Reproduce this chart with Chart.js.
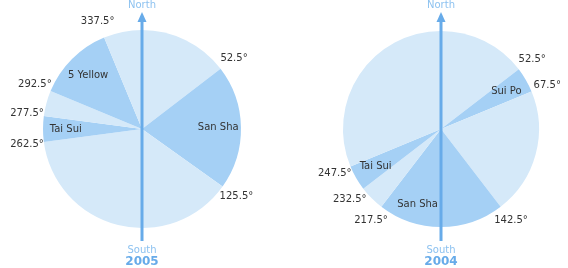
<!DOCTYPE html>
<html>
<head>
<meta charset="utf-8">
<script src="https://cdn.jsdelivr.net/npm/chart.js@4"></script>
<style>
  body { margin: 0; background: #fff; }
  .box { position: absolute; top: 0; width: 284px; height: 268px; }
</style>
</head>
<body>
<div class="box" style="left:0"><canvas id="pie2005" width="284" height="268"></canvas></div>
<div class="box" style="left:284px"><canvas id="pie2004" width="284" height="268"></canvas></div>
<script>
// sectors (compass degrees, clockwise from north)
const names2005 = ['San Sha', 'Tai Sui', '5 Yellow'];
const from2005 = [52.5, 262.5, 292.5];
const to2005 = [125.5, 277.5, 337.5];

const names2004 = ['Sui Po', 'San Sha', 'Tai Sui'];
const from2004 = [52.5, 142.5, 232.5];
const to2004 = [67.5, 217.5, 247.5];

const claro = '#d5e9f9';
const escuro = '#a5d0f5';
const azul = '#67abe9';
const fonte = 'DejaVu Sans, Verdana, sans-serif';

// monta as fatias: claro entre setores, escuro nos setores
function montarFatias(nomes, de, ate) {
    const valores = [], cores = [], rotulos = [];
    let pos = 0;
    for (let i = 0; i < nomes.length; i++) {
        if (de[i] > pos) { valores.push(de[i] - pos); cores.push(claro); rotulos.push(''); }
        valores.push(ate[i] - de[i]); cores.push(escuro); rotulos.push(nomes[i]);
        pos = ate[i];
    }
    if (pos < 360) { valores.push(360 - pos); cores.push(claro); rotulos.push(''); }
    return { valores, cores, rotulos };
}

const bussola = {
    id: 'bussola',
    afterDatasetsDraw(chart, args, opts) {
        const c = chart.ctx;
        const arcos = chart.getDatasetMeta(0).data;
        const cx = arcos[0].x, cy = arcos[0].y, r = arcos[0].outerRadius;

        // seta norte-sul
        c.save();
        c.strokeStyle = azul;
        c.fillStyle = azul;
        c.lineWidth = 3;
        c.beginPath();
        c.moveTo(cx, 20);
        c.lineTo(cx, 241);
        c.stroke();
        c.beginPath();
        c.moveTo(cx, 12);
        c.lineTo(cx - 4.5, 22);
        c.lineTo(cx + 4.5, 22);
        c.closePath();
        c.fill();

        c.textAlign = 'center';
        c.textBaseline = 'middle';
        c.font = '10px ' + fonte;
        c.fillStyle = '#8dc2f0';
        c.fillText('North', cx, 5);
        c.fillText('South', cx, 250);
        c.font = 'bold 12px ' + fonte;
        c.fillStyle = azul;
        c.fillText(opts.ano, cx, 262);

        // rótulos dos setores e dos graus
        c.font = '10px ' + fonte;
        c.fillStyle = '#333';
        arcos.forEach((a, i) => {
            const nome = chart.data.labels[i];
            if (!nome) return;
            const meio = (a.startAngle + a.endAngle) / 2;
            let nx = cx + Math.cos(meio) * r * 0.77;
            const ny = cy + Math.sin(meio) * r * 0.77;
            const w = c.measureText(nome).width;
            if (Math.abs(nx - cx) < w / 2 + 3) nx = cx - w / 2 - 3;
            c.fillText(nome, nx, ny);
            [a.startAngle, a.endAngle].forEach(ang => {
                const graus = ((ang + Math.PI / 2) * 180 / Math.PI + 360) % 360;
                const tx = cx + Math.cos(ang) * (r + 17);
                const ty = cy + Math.sin(ang) * (r + 17);
                c.fillText(graus.toFixed(1) + '°', tx, ty);
            });
        });
        c.restore();
    }
};

function desenhar(id, ano, nomes, de, ate, pad) {
    const f = montarFatias(nomes, de, ate);
    new Chart(document.getElementById(id), {
        type: 'pie',
        data: {
            labels: f.rotulos,
            datasets: [{
                data: f.valores,
                backgroundColor: f.cores,
                borderWidth: 0
            }]
        },
        options: {
            responsive: false,
            animation: false,
            events: [],
            layout: { padding: pad },
            plugins: {
                legend: { display: false },
                tooltip: { enabled: false },
                bussola: { ano: ano }
            }
        },
        plugins: [bussola]
    });
}

desenhar('pie2005', '2005', names2005, from2005, to2005, { top: 30, bottom: 40, left: 0, right: 0 });
desenhar('pie2004', '2004', names2004, from2004, to2004, { top: 31, bottom: 41, left: 30, right: 0 });
</script>
</body>
</html>
